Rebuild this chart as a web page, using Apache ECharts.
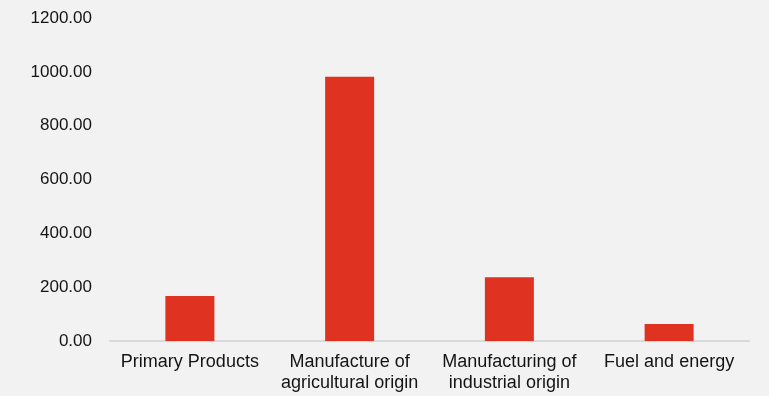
<!DOCTYPE html>
<html>
<head>
<meta charset="utf-8">
<script src="https://cdn.jsdelivr.net/npm/echarts@6/dist/echarts.min.js"></script>
<style>
html,body{margin:0;padding:0;background:#f2f2f2;}
#c{width:769px;height:396px;}
</style>
</head>
<body>
<div id="c"></div>
<script>
const categories = ["Primary Products", "Manufacture of\nagricultural origin", "Manufacturing of\nindustrial origin", "Fuel and energy"];
const values = [167, 982, 237, 63];
const yTicks = {min: 0, max: 1200, interval: 200};

const chart = echarts.init(document.getElementById('c'), null, {renderer: 'canvas'});
chart.setOption({
  backgroundColor: '#f2f2f2',
  animation: false,
  grid: {left: 110, right: 20, top: 18, bottom: 55, containLabel: false},
  xAxis: {
    type: 'category',
    data: categories,
    axisLine: {lineStyle: {color: '#d9d9d9', width: 2}},
    axisTick: {show: false},
    axisLabel: {color: '#141414', fontFamily: 'Liberation Sans, Arial, sans-serif', fontSize: 18, lineHeight: 21, margin: 11, interval: 0}
  },
  yAxis: {
    type: 'value',
    min: yTicks.min, max: yTicks.max, interval: yTicks.interval,
    axisLine: {show: false},
    axisTick: {show: false},
    splitLine: {show: false},
    axisLabel: {color: '#141414', fontFamily: 'Liberation Sans, Arial, sans-serif', fontSize: 17, margin: 18,
      formatter: v => v.toFixed(2)}
  },
  series: [{
    type: 'bar',
    data: values,
    barWidth: 49,
    itemStyle: {color: '#e03221'}
  }]
});
</script>
</body>
</html>
